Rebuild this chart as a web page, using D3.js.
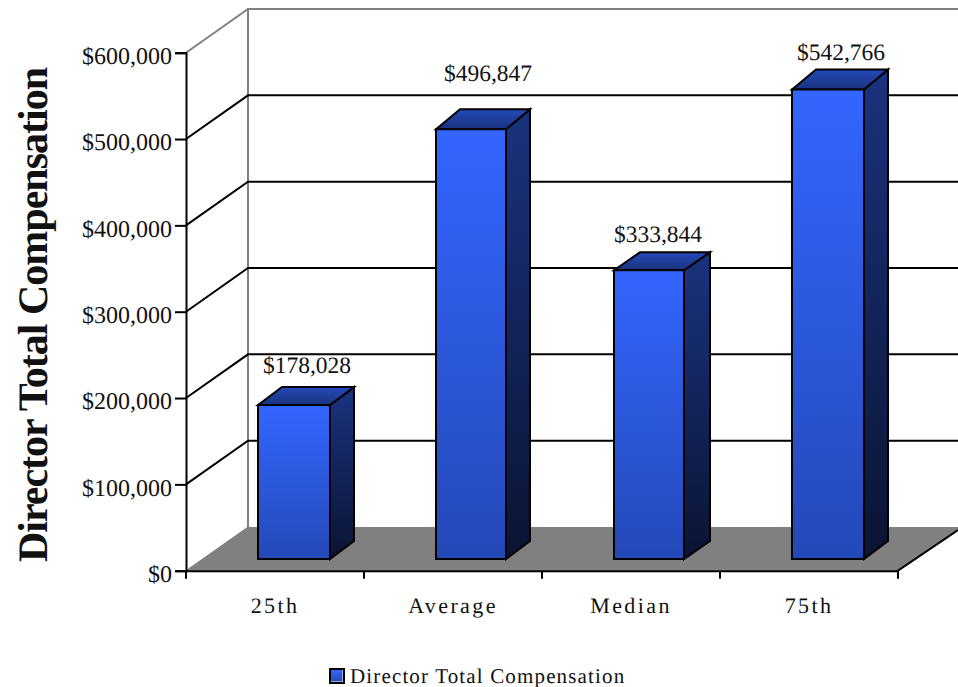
<!DOCTYPE html>
<html><head><meta charset="utf-8">
<script src="https://cdn.jsdelivr.net/npm/d3@7"></script>
<style>html,body{margin:0;padding:0;background:#fff}svg{display:block}text{font-family:"Liberation Serif",serif;fill:#111;text-rendering:geometricPrecision}</style>
</head><body><svg id="c" width="958" height="687"></svg>
<script>
const categories = ["25th","Average","Median","75th"];
const values = [178028,496847,333844,542766];
const valueLabels = ["$178,028","$496,847","$333,844","$542,766"];
const tickValues = [0,100000,200000,300000,400000,500000,600000];
const seriesName = "Director Total Compensation";

const svg = d3.select("#c");
const depth = {x:62,y:43.7};
const barW = [72,70,70,72], barDX = [24,24,26,24], barDY = [18,20,18,20];
const y = d3.scaleLinear().domain([0,600000]).range([570.7,52.7]);
const x = d3.scaleBand().domain(categories).range([186,898]);
const barY = d3.scaleLinear().domain([0,600000]).range([559,40]);
const wall = {l:186,r:898};
const line = d3.line();
const defs = svg.append("defs");
function grad(id,stops){
  const g = defs.append("linearGradient").attr("id",id).attr("x1",0).attr("y1",0).attr("x2",0).attr("y2",1);
  stops.forEach(s=>g.append("stop").attr("offset",s[0]).attr("stop-color",s[1]));
}
grad("front",[[0,"#3366ff"],[1,"#2449b8"]]);
grad("side",[[0,"#1a337f"],[1,"#0a1433"]]);
grad("top",[[0,"#2449b8"],[1,"#1a337f"]]);

// floor
svg.append("path").attr("fill","#808080")
  .attr("d",line([[wall.l,y(0)],[wall.l+depth.x,y(0)-depth.y],[958,y(0)-depth.y],[958,530],[wall.r,y(0)]])+"Z");
svg.append("path").attr("fill","none").attr("stroke","#000").attr("stroke-width",2)
  .attr("d",line([[wall.r,y(0)],[958,530]]));
// back wall edge
svg.append("path").attr("fill","none").attr("stroke","#808080").attr("stroke-width",2)
  .attr("d",line([[wall.l+depth.x,y(0)-depth.y],[wall.l+depth.x,y(600000)-depth.y],[958,y(600000)-depth.y]]));
svg.append("path").attr("fill","none").attr("stroke","#808080").attr("stroke-width",2)
  .attr("d",line([[wall.l,y(600000)],[wall.l+depth.x,y(600000)-depth.y]]));
svg.append("path").attr("fill","none").attr("stroke","#808080").attr("stroke-width",1)
  .attr("d",line([[wall.l,y(0)],[wall.l+depth.x,y(0)-depth.y]]));
// grid
svg.append("g").selectAll("path").data(tickValues.slice(1,-1)).join("path")
  .attr("fill","none").attr("stroke","#000").attr("stroke-width",2)
  .attr("d",d=>line([[wall.l,y(d)],[wall.l+depth.x,y(d)-depth.y],[958,y(d)-depth.y]]));
// bars
const bars = svg.append("g").selectAll("g").data(categories).join("g");
const bx = (c)=>x(c)+72;
bars.each(function(c,i){
  const g = d3.select(this), l=bx(c), r=l+barW[i], t=barY(values[i]), b=barY(0), dx=barDX[i], dy=barDY[i];
  const st = s=>s.attr("stroke","#000").attr("stroke-width",2).attr("stroke-linejoin","miter");
  st(g.append("path").attr("fill","url(#side)").attr("d",line([[r,t],[r+dx,t-dy],[r+dx,b-18],[r,b]])+"Z"));
  st(g.append("path").attr("fill","url(#top)").attr("d",line([[l,t],[l+dx,t-dy],[r+dx,t-dy],[r,t]])+"Z"));
  st(g.append("rect").attr("fill","url(#front)").attr("x",l).attr("y",t).attr("width",barW[i]).attr("height",b-t));
});
// axes
const yAxis = d3.axisLeft(y).tickValues(tickValues).tickFormat(d=>"$"+d3.format(",")(d)).tickSize(11).tickPadding(3);
const gy = svg.append("g").attr("transform","translate(186,0)").call(yAxis);
gy.selectAll("path,line").attr("stroke","#000").attr("stroke-width",2);
gy.selectAll("text").attr("font-size",24).attr("y",3).style("font-family","Liberation Serif").attr("fill","#111");
const ax = d3.axisBottom(x).tickSize(0).tickPadding(0);
const gx = svg.append("g").attr("transform",`translate(0,${y(0)})`).call(ax);
gx.selectAll("path").attr("stroke","#000").attr("stroke-width",2);
gx.selectAll("line").remove();
gx.selectAll("text").attr("y",42).attr("dy",null).attr("font-size",22).style("letter-spacing","2.4px").style("font-family","Liberation Serif").attr("fill","#111");
svg.append("g").selectAll("line").data(categories.map(c=>x(c)).concat([x.range()[1]])).join("line")
  .attr("x1",d=>d).attr("x2",d=>d).attr("y1",y(0)).attr("y2",y(0)+8).attr("stroke","#000").attr("stroke-width",2);
// value labels
const labelLift = [14,30,10,12], labelShift = [0,3,-5,0];
svg.append("g").selectAll("text").data(valueLabels).join("text")
  .attr("x",(d,i)=>bx(categories[i])+49+labelShift[i]).attr("y",(d,i)=>barY(values[i])-18-labelLift[i])
  .attr("text-anchor","middle").attr("font-size",23.5).text(d=>d);
// title
svg.append("text").attr("transform","translate(46.5,315) rotate(-90)").attr("text-anchor","middle")
  .attr("font-size",42).attr("font-weight","bold").style("letter-spacing","-1px").text(seriesName);
// legend
svg.append("rect").attr("x",330).attr("y",669).attr("width",14).attr("height",14).attr("fill","#fff").attr("stroke","#000").attr("stroke-width",2);
svg.append("rect").attr("x",331).attr("y",670).attr("width",11.5).attr("height",11.5).attr("fill","url(#front)");
svg.append("text").attr("x",350).attr("y",683).attr("font-size",21).style("letter-spacing","1.15px").text(seriesName);
</script></body></html>
